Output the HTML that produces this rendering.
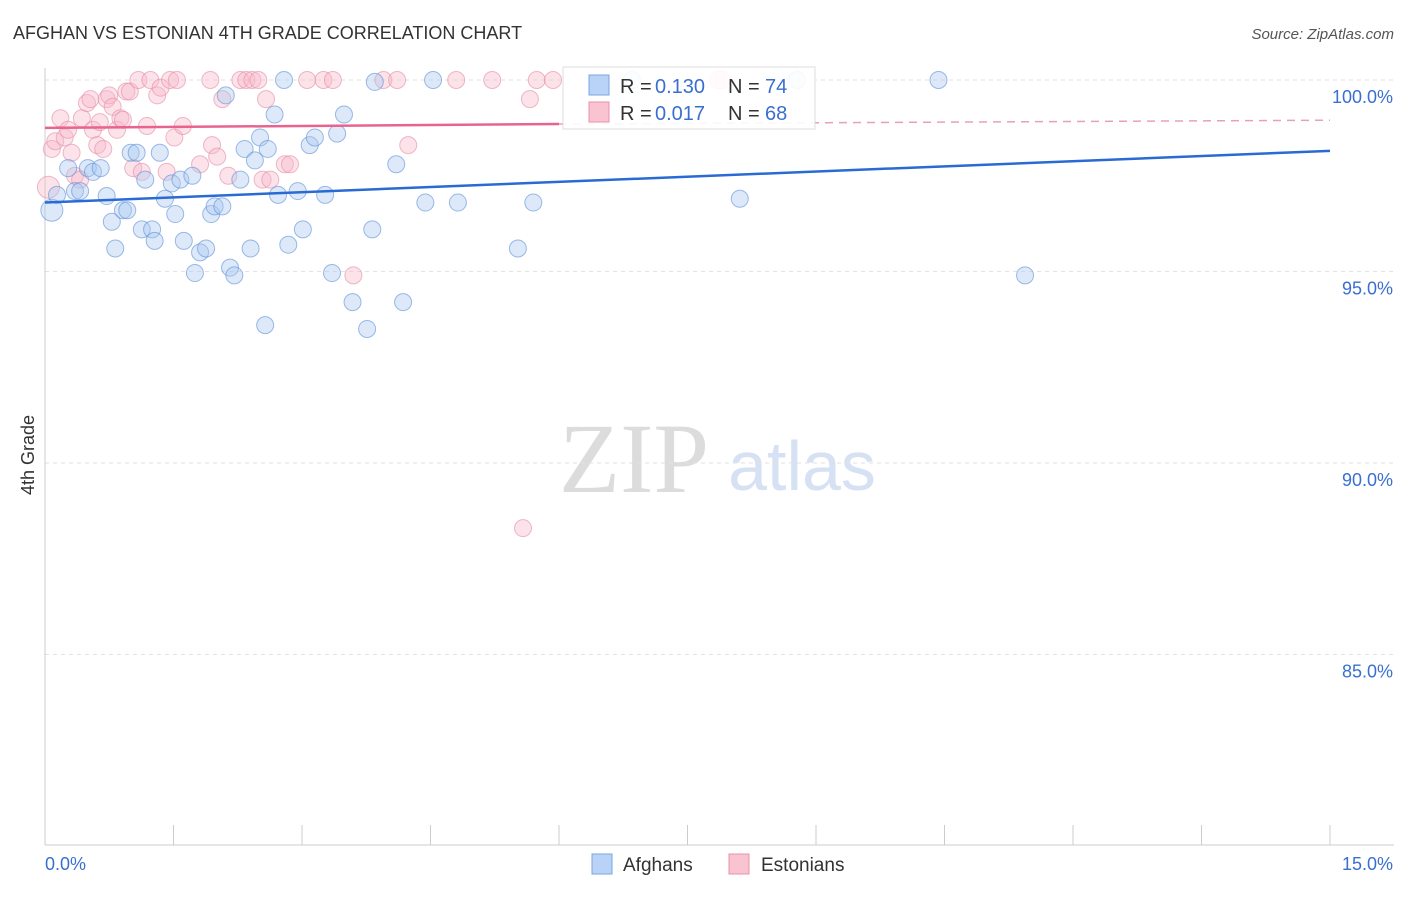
<!DOCTYPE html>
<html><head><meta charset="utf-8">
<style>
body{margin:0;background:#fff;font-family:"Liberation Sans",sans-serif;}
</style></head>
<body>
<svg id="chart" width="1406" height="892" viewBox="0 0 1406 892" xmlns="http://www.w3.org/2000/svg" font-family="Liberation Sans, sans-serif">
<text x="13" y="39" font-size="18" fill="#333">AFGHAN VS ESTONIAN 4TH GRADE CORRELATION CHART</text>
<text x="1394" y="39" font-size="15" fill="#555" font-style="italic" text-anchor="end">Source: ZipAtlas.com</text>
<text x="634" y="492" font-size="100" fill="#dcdcdc" style="font-family:'Liberation Serif',serif" text-anchor="middle">ZIP</text>
<text x="802" y="490" font-size="70" fill="#d6e2f3" text-anchor="middle">atlas</text>
<g id="grid"></g>
<g id="axes"></g>
<g id="points"></g>
<g id="lines"></g>
<text transform="translate(34,455) rotate(-90)" font-size="18" fill="#333" text-anchor="middle">4th Grade</text>
<g>
<rect x="563" y="67" width="252" height="62" fill="#fff" fill-opacity="0.9" stroke="#ddd"/>
<rect x="589" y="75" width="20" height="20" fill="#b8d3f5" stroke="#7aa6e0"/>
<rect x="589" y="102" width="20" height="20" fill="#f9c3d2" stroke="#e890ab"/>
<text x="620" y="93" font-size="20" fill="#333">R =</text>
<text x="655" y="93" font-size="20" fill="#3a6fd0">0.130</text>
<text x="728" y="93" font-size="20" fill="#333">N =</text>
<text x="765" y="93" font-size="20" fill="#3a6fd0">74</text>
<text x="620" y="120" font-size="20" fill="#333">R =</text>
<text x="655" y="120" font-size="20" fill="#3a6fd0">0.017</text>
<text x="728" y="120" font-size="20" fill="#333">N =</text>
<text x="765" y="120" font-size="20" fill="#3a6fd0">68</text>
</g>
<g>
<rect x="592" y="854" width="20" height="20" fill="#b8d3f5" stroke="#7aa6e0"/>
<text x="623" y="871" font-size="19" fill="#333">Afghans</text>
<rect x="729" y="854" width="20" height="20" fill="#f9c3d2" stroke="#e890ab"/>
<text x="761" y="871" font-size="19" fill="#333">Estonians</text>
</g>
</svg>
<script>
const xTicks=[0,1.5,3,4.5,6,7.5,9,10.5,12,13.5,15];
const yTicks=[100,95,90,85];
const yTickLabels=["100.0%","95.0%","90.0%","85.0%"];
const blueX=[0.08,0.14,0.27,0.35,0.41,0.5,0.56,0.65,0.72,0.78,0.82,0.91,0.96,1.0,1.07,1.17,1.13,1.25,1.28,1.34,1.4,1.48,1.52,1.58,1.62,1.72,1.75,1.81,1.88,1.94,1.98,2.07,2.11,2.16,2.21,2.28,2.33,2.4,2.45,2.51,2.57,2.6,2.68,2.72,2.79,2.84,2.95,3.01,3.09,3.15,3.27,3.35,3.41,3.49,3.59,3.76,3.82,3.85,4.1,4.18,4.44,4.53,4.82,5.52,5.7,6.85,8.11,8.78,10.43,11.44];
const blueY=[96.6,97.0,97.7,97.1,97.1,97.7,97.6,97.7,96.97,96.3,95.6,96.6,96.6,98.1,98.1,97.4,96.1,96.1,95.8,98.1,96.9,97.3,96.5,97.4,95.8,97.5,94.96,95.5,95.6,96.5,96.7,96.7,99.6,95.1,94.9,97.4,98.2,95.6,97.9,98.5,93.6,98.2,99.1,97.0,100,95.7,97.1,96.1,98.3,98.5,97.0,94.96,98.6,99.1,94.2,93.5,96.1,99.95,97.8,94.2,96.8,100,96.8,95.6,96.8,100,96.9,100,100,94.9];
const pinkX=[0.04,0.08,0.12,0.18,0.23,0.27,0.31,0.35,0.41,0.43,0.49,0.53,0.56,0.61,0.64,0.68,0.72,0.75,0.79,0.84,0.88,0.91,0.95,0.99,1.03,1.09,1.13,1.19,1.23,1.31,1.35,1.42,1.46,1.51,1.54,1.61,1.81,1.93,1.95,2.01,2.07,2.14,2.28,2.35,2.42,2.49,2.54,2.58,2.63,2.8,2.86,3.06,3.25,3.36,3.6,3.95,4.11,4.24,4.8,5.22,5.58,5.66,5.74,5.93,7.86,7.9];
const pinkY=[97.2,98.2,98.4,99.0,98.5,98.7,98.1,97.5,97.4,99.0,99.4,99.5,98.7,98.3,98.9,98.2,99.5,99.6,99.3,98.7,99.0,98.96,99.7,99.7,97.7,100,97.6,98.8,100,99.6,99.8,97.6,100,98.5,100,98.8,97.8,100,98.3,98.0,99.5,97.5,100,100,100,100,97.4,99.5,97.4,97.8,97.8,100,100,100,94.9,100,100,98.3,100,100,88.3,99.5,100,100,100,100];
const blueTrend=[[0,96.8],[15,98.15]];
const pinkTrend=[[0,98.75],[6,98.85],[15,98.95]];
const NS="http://www.w3.org/2000/svg";
const X=v=>45+(v/15)*1285;
const Y=v=>80+(100-v)*38.3;
function mk(tag,attrs,parent){const e=document.createElementNS(NS,tag);for(const k in attrs)e.setAttribute(k,attrs[k]);parent.appendChild(e);return e;}
const grid=document.getElementById('grid'),axes=document.getElementById('axes'),pts=document.getElementById('points'),lines=document.getElementById('lines');
yTicks.forEach((t,i)=>{
 const l=mk('line',{x1:45,x2:1394,y1:Y(t),y2:Y(t),stroke:'#e2e2e2','stroke-dasharray':'4,4'},grid);
 
 
 const tx=mk('text',{x:1393,y:Y(t)+23,'font-size':18,fill:'#3a6fd0','text-anchor':'end'},axes);
 tx.textContent=yTickLabels[i];
 
 
});
const xa=mk('line',{x1:45,x2:1394,y1:845,y2:845,stroke:'#ccc'},axes);


const ya=mk('line',{x1:45,x2:45,y1:68,y2:845,stroke:'#ccc'},axes);


xTicks.forEach(t=>{
 const tk=mk('line',{x1:X(t),x2:X(t),y1:825,y2:845,stroke:'#ccc'},axes);
 
 
});
const xl0=mk('text',{x:45,y:870,'font-size':18,fill:'#3a6fd0'},axes);xl0.textContent='0.0%';


const xl1=mk('text',{x:1393,y:870,'font-size':18,fill:'#3a6fd0','text-anchor':'end'},axes);xl1.textContent='15.0%';


function drawPts(xs,ys,fill,stroke,name){
 xs.forEach((x,i)=>{
  const r=i===0?11:8.5;
  const c=mk('circle',{cx:X(x),cy:Y(ys[i]),r:r,fill:fill,'fill-opacity':0.4,stroke:stroke,'stroke-width':1,'stroke-opacity':0.6},pts);
  
  
 });
}
drawPts(pinkX,pinkY,'#f7b8cb','#e58aa8','estonian-point');
drawPts(blueX,blueY,'#a9c8f0','#5b8fd8','afghan-point');
const bl=mk('line',{x1:X(blueTrend[0][0]),y1:Y(blueTrend[0][1]),x2:X(blueTrend[1][0]),y2:Y(blueTrend[1][1]),stroke:'#2a6ad4','stroke-width':2.5},lines);


const pl=mk('line',{x1:X(pinkTrend[0][0]),y1:Y(pinkTrend[0][1]),x2:X(pinkTrend[1][0]),y2:Y(pinkTrend[1][1]),stroke:'#e8648e','stroke-width':2.5},lines);


const pd=mk('line',{x1:X(pinkTrend[1][0]),y1:Y(pinkTrend[1][1]),x2:X(pinkTrend[2][0]),y2:Y(pinkTrend[2][1]),stroke:'#e8a0b8','stroke-width':1.5,'stroke-dasharray':'8,6'},lines);


</script>
</body></html>
